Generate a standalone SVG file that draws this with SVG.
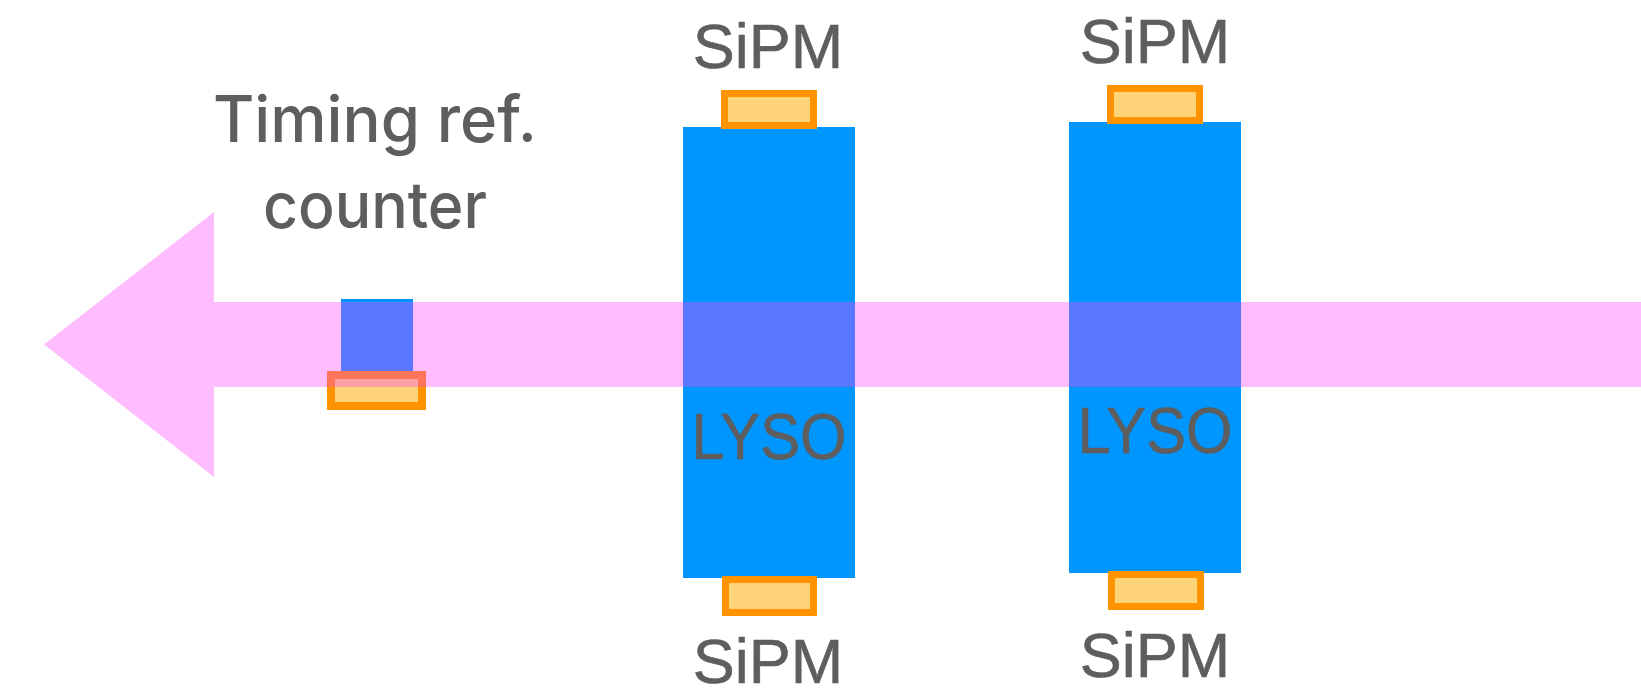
<svg xmlns="http://www.w3.org/2000/svg" width="1641" height="690" viewBox="0 0 1641 690">
  <style>
    .lyso { fill: #0096FF; }
    .sipm { fill: #FFD479; stroke: #FF9300; stroke-width: 7; }
    .lbl { font-family: "Liberation Sans", Arial, sans-serif; fill: #5E5E5E; stroke: #5E5E5E; stroke-width: 0.6; text-anchor: middle; }
    .sp { font-size: 63px; }
    .ly { font-size: 64px; }
    .tr { font-family: Inter, "Liberation Sans", sans-serif; font-weight: 500; font-size: 64px; fill: #5E5E5E; text-anchor: middle; }
  </style>
  <rect width="1641" height="690" fill="#FFFFFF"/>
  <g id="counter">
    <rect x="341" y="299" width="72" height="76" class="lyso"/>
    <rect x="331" y="375" width="91" height="31" class="sipm" style="stroke-width:8"/>
  </g>
  <g id="lyso1">
    <rect x="683" y="127" width="172" height="451" class="lyso"/>
    <rect x="724.5" y="93.5" width="89" height="32" class="sipm"/>
    <rect x="725.5" y="579.5" width="88" height="33" class="sipm"/>
  </g>
  <g id="lyso2">
    <rect x="1069" y="122" width="172" height="451" class="lyso"/>
    <rect x="1110.5" y="88.5" width="89" height="32" class="sipm"/>
    <rect x="1111.5" y="574.5" width="89" height="32" class="sipm"/>
  </g>
  <g id="beam">
    <polygon points="44,344.5 214,212 214,302 1641,302 1641,387 214,387 214,477" fill="#FF40FF" fill-opacity="0.35"/>
  </g>
  <g id="labels">
    <text class="tr" x="375" y="142" textLength="324" lengthAdjust="spacingAndGlyphs">Timing ref.</text>
    <text class="tr" x="375" y="228" textLength="224" lengthAdjust="spacingAndGlyphs">counter</text>
    <text class="lbl sp" x="768" y="68">SiPM</text>
    <text class="lbl sp" x="1155" y="63">SiPM</text>
    <text class="lbl sp" x="768" y="683">SiPM</text>
    <text class="lbl sp" x="1155" y="677">SiPM</text>
    <text class="lbl ly" x="769" y="459" textLength="155" lengthAdjust="spacingAndGlyphs">LYSO</text>
    <text class="lbl ly" x="1155" y="453" textLength="155" lengthAdjust="spacingAndGlyphs">LYSO</text>
  </g>
</svg>
